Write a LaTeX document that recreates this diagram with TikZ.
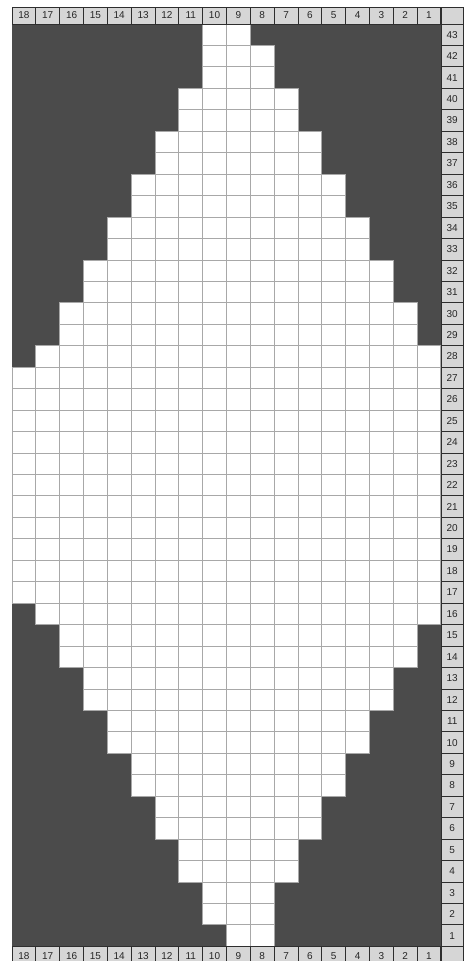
\documentclass[tikz,border=0pt]{standalone}
\usepackage{fontspec}
\setmainfont{Liberation Sans}
\definecolor{bgdark}{HTML}{4B4B4B}
\definecolor{gridline}{HTML}{A8A8A8}
\definecolor{headfill}{HTML}{D6D6D6}
\definecolor{headline}{HTML}{2E2E2E}
\tikzset{
  % cells of the chart
  cell/.style={fill=white,draw=gridline,line width=0.9pt},
  % header cells (columns and rows)
  head/.style={fill=headfill,draw=headline,line width=0.9pt},
  headnum/.style={font=\fontsize{10}{12}\selectfont,text=black!85,inner sep=0pt}
}
\begin{document}
\begin{tikzpicture}[x=1pt,y=-1pt]
    \useasboundingbox (0,0) rectangle (464,961);
    \fill[bgdark] (12,24) rectangle (441,946.7);
    % white stitches: row / first column / last column (counted from the left)
    \foreach \rw/\a/\b in {43/9/10, 42/9/11, 41/9/11, 40/8/12, 39/8/12, 38/7/13,
        37/7/13, 36/6/14, 35/6/14, 34/5/15, 33/5/15, 32/4/16, 31/4/16, 30/3/17,
        29/3/17, 28/2/18, 27/1/18, 26/1/18, 25/1/18, 24/1/18, 23/1/18, 22/1/18,
        21/1/18, 20/1/18, 19/1/18, 18/1/18, 17/1/18, 16/2/18, 15/3/17, 14/3/17,
        13/4/16, 12/4/16, 11/5/15, 10/5/15, 9/6/14, 8/6/14, 7/7/13, 6/7/13,
        5/8/12, 4/8/12, 3/9/11, 2/9/11, 1/10/11}{
      \foreach \j in {\a,...,\b}{
        \draw[cell] ({12+(\j-1)*23.83},{24+(43-\rw)*21.45}) rectangle ++(23.83,21.45);
      }
    }
    % column numbers, top and bottom
    \foreach \j in {1,...,18}{
      \pgfmathtruncatemacro{\lab}{19-\j}
      \draw[head] ({12+(\j-1)*23.83},7) rectangle ++(23.83,17);
      \node[headnum] (top-\lab) at ({12+(\j-0.5)*23.83},15.5) {\lab};
      \draw[head] ({12+(\j-1)*23.83},946.7) rectangle ++(23.83,17);
      \node[headnum] (bot-\lab) at ({12+(\j-0.5)*23.83},955.7) {\lab};
    }
    % row numbers
    \foreach \rw in {1,...,43}{
      \draw[head] (441,{24+(43-\rw)*21.45}) rectangle ++(22.5,21.45);
      \node[headnum] (row-\rw) at (452.2,{24+(43.5-\rw)*21.45}) {\rw};
    }
    \draw[head] (441,7) rectangle (463.5,24);
    \draw[head] (441,946.7) rectangle (463.5,963.7);
  \end{tikzpicture}
\end{document}
